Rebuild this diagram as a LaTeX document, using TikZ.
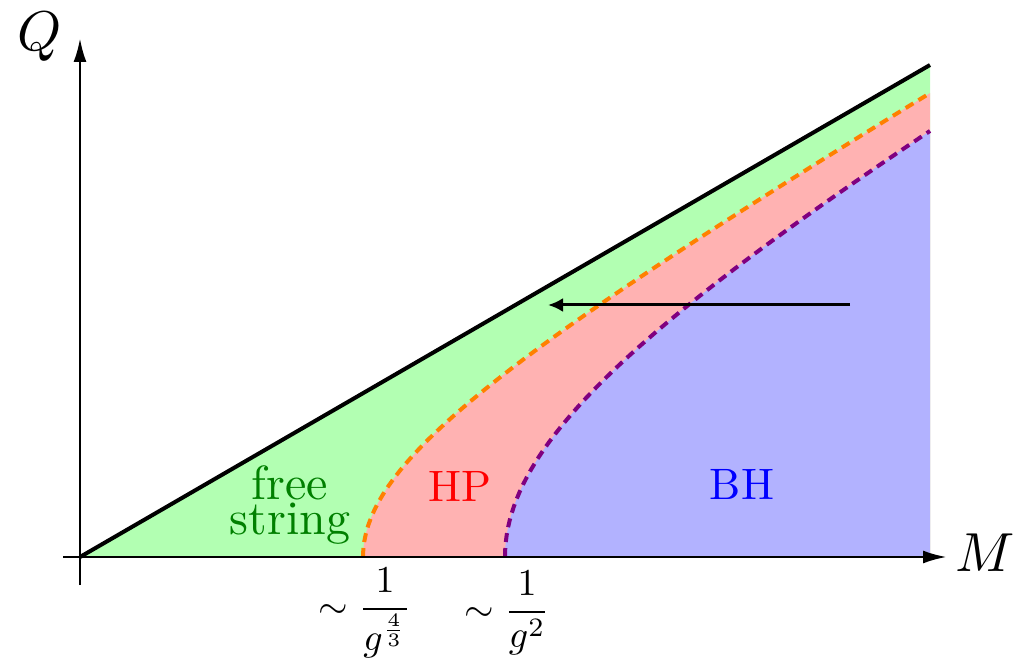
\documentclass[tikz,border=0pt]{standalone}
\usepackage{amsmath}
\usepackage{graphicx}
\usepackage{tikz}
\usetikzlibrary{arrows.meta}
\usepackage{xcolor}
\definecolor{hpline}{HTML}{FF8000}
\definecolor{bhline}{HTML}{800080}
\definecolor{stringtext}{HTML}{008000}
\font\stringfont="[lmroman10-regular]" at 24pt
\font\phasefont="[lmroman10-regular]" at 22pt

\begin{document}
\begin{tikzpicture}[
  x=5pt, y=5pt,
  axis/.style={line width=1.4pt, -{Latex[length=12pt,width=6.5pt]}},
  bound/.style={line width=2pt, dash pattern=on 4.5pt off 3pt},
  region/.style={font=\phasefont, inner sep=0pt},
  tick/.style={inner sep=0pt},
  arr/.style={line width=1.5pt, -{Latex[length=7.5pt,width=7pt]}}
]
\useasboundingbox (-8,-10.2) rectangle (93.3,55.7);
\pgfmathsetmacro{\qslope}{492/850}
\pgfmathsetmacro{\hpstart}{28.3}
\pgfmathsetmacro{\bhstart}{42.5}
\pgfmathsetmacro{\hptop}{\qslope*sqrt(85^2-\hpstart^2)}
\pgfmathsetmacro{\bhtop}{\qslope*sqrt(85^2-\bhstart^2)}

\coordinate (O) at (0,0);
\coordinate (edge) at (85,49.2);
\coordinate (foot) at (85,0);
\coordinate (hp) at (\hpstart,0);
\coordinate (bh) at (\bhstart,0);

% regions
\fill[green!30] (O) -- (edge) -- (foot) -- cycle;
\fill[red!30] (hp) -- plot[domain=0:\hptop, samples=60, variable=\q]
  ({sqrt(\hpstart^2+(\q/\qslope)^2)}, \q) -- (foot) -- cycle;
\fill[blue!30] (bh) -- plot[domain=0:\bhtop, samples=60, variable=\q]
  ({sqrt(\bhstart^2+(\q/\qslope)^2)}, \q) -- (foot) -- cycle;

% boundaries
\draw[bound, hpline] (hp) -- plot[domain=0:\hptop, samples=60, variable=\q]
  ({sqrt(\hpstart^2+(\q/\qslope)^2)}, \q);
\draw[bound, bhline] (bh) -- plot[domain=0:\bhtop, samples=60, variable=\q]
  ({sqrt(\bhstart^2+(\q/\qslope)^2)}, \q);
\draw[line width=2pt] (O) -- (edge);

% axes
\coordinate (xstart) at (-1.7,0);
\coordinate (xend) at (86.7,0);
\coordinate (ystart) at (0,-2.8);
\coordinate (yend) at (0,51.9);
\draw[axis] (xstart) -- (xend);
\draw[axis] (ystart) -- (yend);
\node[inner sep=0pt] (Mlab) at (90.5,0.4) {\scalebox{2.75}{$M$}};
\node[inner sep=0pt] (Qlab) at (-4.0,52.0) {\scalebox{2.8}{$Q$}};

% flow
\coordinate (from) at (77,25.2);
\coordinate (to) at (46.8,25.2);
\draw[arr] (from) -- (to);

% labels
\node[region, stringtext, align=center, font={\fontsize{24}{17.5}\selectfont\stringfont}] (free) at (21.0,5.2) {free\\string};
\node[region, red, anchor=base] (hplab) at (38.0,5.5) {HP};
\node[region, blue, anchor=base] (bhlab) at (66.2,5.8) {BH};
\node[tick] (hptick) at (28.5,-5.6) {\scalebox{1.9}{$\sim\dfrac{1}{g^{\frac{4}{3}}}$}};
\node[tick] (bhtick) at (42.7,-5.6) {\scalebox{1.9}{$\sim\dfrac{1}{g^{2}}$}};
\end{tikzpicture}
\end{document}
